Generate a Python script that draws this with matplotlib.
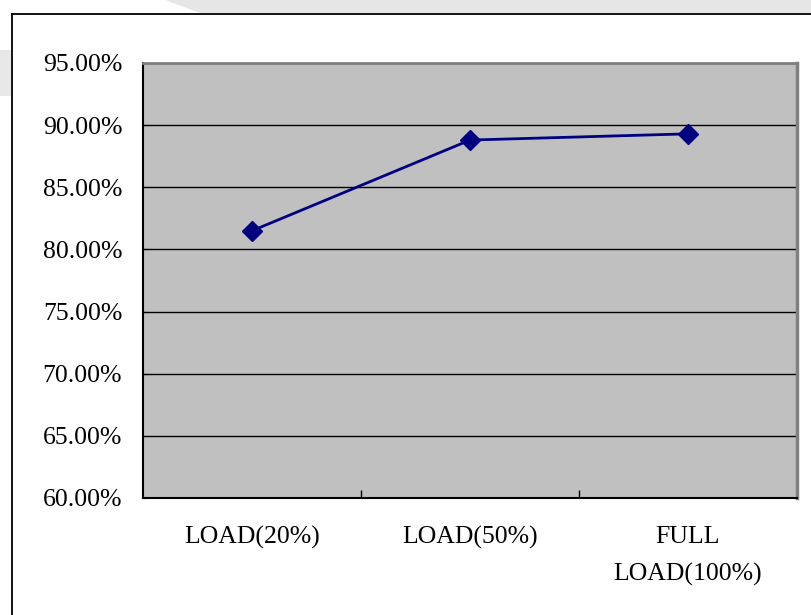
import matplotlib
matplotlib.use("Agg")
import matplotlib.pyplot as plt
from matplotlib.patches import Polygon, Rectangle
from matplotlib.lines import Line2D

# ------------------------------------------------------------
# Data
# ------------------------------------------------------------
categories = ["LOAD(20%)", "LOAD(50%)", "FULL\nLOAD(100%)"]
efficiency = [81.5, 88.8, 89.3]          # percent
y_ticks = [60, 65, 70, 75, 80, 85, 90, 95]

plt.rcParams['font.family'] = ['Liberation Serif', 'DejaVu Serif']

fig = plt.figure(figsize=(8.11, 6.15), dpi=100)
W, H = 811.0, 615.0

# faint watermark shapes behind the frame
fig.patches.append(Polygon([(165 / W, 1.0), (1.0, 1.0), (1.0, 1 - 13 / H),
                            (200 / W, 1 - 13 / H)],
                           closed=True, transform=fig.transFigure,
                           facecolor='#e6e6e6', edgecolor='none', zorder=0))
fig.patches.append(Rectangle((0, 1 - 96 / H), 11 / W, 46 / H,
                             transform=fig.transFigure,
                             facecolor='#e8e8e8', edgecolor='none', zorder=0))

# outer chart frame (cut off at right and bottom)
fig.lines.append(Line2D([11.5 / W, 1.0], [1 - 13.5 / H, 1 - 13.5 / H],
                        transform=fig.transFigure, color='black', lw=1.3))
fig.lines.append(Line2D([11.5 / W, 11.5 / W], [0, 1 - 13.5 / H],
                        transform=fig.transFigure, color='black', lw=1.3))

ax = fig.add_axes([143 / W, 1 - 498 / H, (797 - 143) / W, (498 - 63) / H])
ax.set_facecolor('#c0c0c0')

x = list(range(len(categories)))
ax.plot(x, efficiency, color='#000080', lw=2.0, marker='D', markersize=10,
        markerfacecolor='#000080', markeredgecolor='#000080', zorder=3)

ax.set_xlim(-0.5, len(categories) - 0.5)
ax.set_ylim(60, 95)
ax.set_yticks(y_ticks)
ax.set_yticklabels([f"{v:.2f}%" for v in y_ticks], fontsize=18.5)
ax.yaxis.grid(True, color='black', lw=1.0)
ax.set_axisbelow(True)

ax.set_xticks(x)
ax.set_xticklabels(categories, fontsize=18.5, linespacing=1.85)
ax.set_xticks([0.5, 1.5, 2.5], minor=True)
ax.tick_params(axis='x', which='major', length=0, pad=20)
ax.tick_params(axis='x', which='minor', direction='in', length=6, width=1)
ax.tick_params(axis='y', direction='in', length=3, pad=15)

for side in ['left', 'bottom']:
    ax.spines[side].set_color('black')
    ax.spines[side].set_linewidth(1.5)
ax.spines['top'].set_color('#808080')
ax.spines['top'].set_linewidth(2)
ax.spines['right'].set_color('#808080')
ax.spines['right'].set_linewidth(2.5)

fig.savefig("out.png", dpi=100, facecolor='white')
